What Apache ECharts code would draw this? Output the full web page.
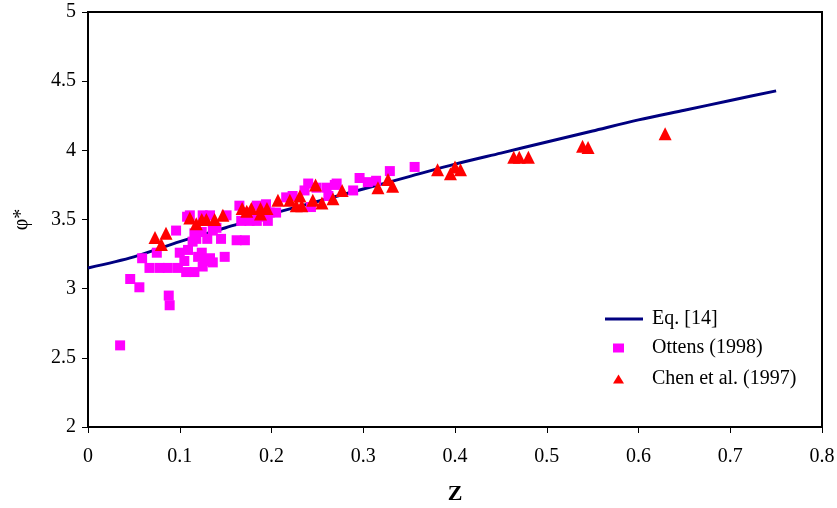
<!DOCTYPE html>
<html>
<head>
<meta charset="utf-8">
<script src="https://cdn.jsdelivr.net/npm/echarts@6/dist/echarts.min.js"></script>
<style>
  html, body { margin: 0; padding: 0; background: #fff; }
  #chart { width: 837px; height: 508px; }
</style>
</head>
<body>
<div id="chart"></div>
<script>
// Eq. [14] curve
const eqZ = [0, 0.05, 0.1, 0.15, 0.2, 0.25, 0.3, 0.35, 0.4, 0.45, 0.5, 0.55, 0.6, 0.65, 0.7, 0.75]
const eqPhi = [3.15, 3.23, 3.34, 3.44, 3.54, 3.63, 3.72, 3.81, 3.90, 3.98, 4.06, 4.14, 4.22, 4.29, 4.36, 4.43]

// Ottens (1998)
const ottensZ = [0.035, 0.046, 0.056, 0.059, 0.067, 0.075, 0.078, 0.087, 0.088, 0.089,
  0.096, 0.098, 0.100, 0.105, 0.107, 0.108, 0.109, 0.111, 0.114, 0.116,
  0.116, 0.118, 0.120, 0.124, 0.124, 0.125, 0.125, 0.127, 0.130, 0.133,
  0.133, 0.136, 0.136, 0.140, 0.145, 0.149, 0.151, 0.162, 0.165, 0.167,
  0.171, 0.173, 0.173, 0.176, 0.182, 0.184, 0.184, 0.191, 0.194, 0.196,
  0.198, 0.205, 0.216, 0.223, 0.236, 0.240, 0.243, 0.249, 0.260, 0.262,
  0.269, 0.271, 0.289, 0.296, 0.305, 0.314, 0.329, 0.356]
const ottensPhi = [2.59, 3.07, 3.01, 3.22, 3.15, 3.26, 3.15, 3.15, 2.95, 2.88,
  3.42, 3.15, 3.26, 3.20, 3.12, 3.52, 3.28, 3.53, 3.34, 3.12,
  3.40, 3.36, 3.23, 3.26, 3.41, 3.16, 3.53, 3.20, 3.36, 3.22,
  3.53, 3.19, 3.42, 3.44, 3.36, 3.23, 3.53, 3.35, 3.60, 3.49,
  3.35, 3.55, 3.50, 3.49, 3.51, 3.49, 3.60, 3.52, 3.61, 3.49,
  3.55, 3.55, 3.66, 3.67, 3.71, 3.76, 3.59, 3.73, 3.73, 3.67,
  3.75, 3.76, 3.71, 3.80, 3.77, 3.78, 3.85, 3.88]

// Chen et al. (1997)
const chenZ = [0.073, 0.080, 0.085, 0.111, 0.118, 0.124, 0.129, 0.138, 0.147, 0.168,
  0.173, 0.178, 0.188, 0.188, 0.195, 0.207, 0.220, 0.227, 0.231, 0.233,
  0.245, 0.248, 0.255, 0.267, 0.277, 0.316, 0.327, 0.332, 0.381, 0.395,
  0.400, 0.406, 0.464, 0.470, 0.480, 0.539, 0.545, 0.629]
const chenPhi = [3.37, 3.32, 3.40, 3.51, 3.47, 3.50, 3.50, 3.50, 3.53, 3.58,
  3.56, 3.58, 3.58, 3.54, 3.58, 3.64, 3.64, 3.60, 3.67, 3.60,
  3.64, 3.75, 3.62, 3.65, 3.71, 3.73, 3.79, 3.74, 3.86, 3.83,
  3.88, 3.86, 3.95, 3.95, 3.95, 4.03, 4.02, 4.12]

const zip = (a, b) => a.map((x, i) => [x, b[i]])

const font = 'Liberation Serif'
const chart = echarts.init(document.getElementById('chart'))

const option = {
  animation: false,
  textStyle: { fontFamily: font, color: '#000' },
  grid: {
    left: 88, right: 15, top: 12, bottom: 81,
    outerBoundsMode: 'none',
    show: true, borderColor: '#000', borderWidth: 2, backgroundColor: '#fff'
  },
  legend: [
    {
      data: [{ name: 'Eq. [14]', icon: 'rect' }],
      orient: 'vertical',
      left: 600, top: 304,
      itemWidth: 38, itemHeight: 3,
      textStyle: { fontFamily: font, fontSize: 20, color: '#000', padding: [0, 0, 0, 4] }
    },
    {
      data: [
        { name: 'Ottens (1998)', icon: 'rect' },
        { name: 'Chen et al. (1997)', icon: 'triangle' }
      ],
      orient: 'vertical',
      left: 608, top: 333,
      itemWidth: 11, itemHeight: 9,
      itemGap: 11,
      textStyle: { fontFamily: font, fontSize: 20, color: '#000', padding: [0, 0, 0, 23] }
    }
  ],
  xAxis: {
    type: 'value',
    min: 0, max: 0.8, interval: 0.1,
    name: 'Z',
    nameLocation: 'middle',
    nameGap: 56,
    nameTextStyle: { fontFamily: font, fontSize: 22, fontWeight: 'bold', color: '#000' },
    axisLine: { show: true, lineStyle: { color: '#000', width: 2 } },
    axisTick: { show: true, inside: false, length: 6, lineStyle: { color: '#000' } },
    axisLabel: { fontFamily: font, fontSize: 20, color: '#000', margin: 20 },
    splitLine: { show: false }
  },
  yAxis: {
    type: 'value',
    min: 2, max: 5, interval: 0.5,
    name: 'φ*',
    nameLocation: 'middle',
    nameRotate: 90,
    nameGap: 56,
    nameTextStyle: { fontFamily: font, fontSize: 20, color: '#000' },
    axisLine: { show: true, lineStyle: { color: '#000', width: 2 } },
    axisTick: { show: true, inside: false, length: 6, lineStyle: { color: '#000' } },
    axisLabel: { fontFamily: font, fontSize: 20, color: '#000', margin: 12 },
    splitLine: { show: false }
  },
  series: [
    {
      name: 'Eq. [14]',
      type: 'line',
      data: zip(eqZ, eqPhi),
      smooth: 0.3,
      symbol: 'none',
      lineStyle: { color: '#000080', width: 3 },
      itemStyle: { color: '#000080' },
      z: 3
    },
    {
      name: 'Ottens (1998)',
      type: 'scatter',
      data: zip(ottensZ, ottensPhi),
      symbol: 'rect',
      symbolSize: 10,
      itemStyle: { color: '#FF00FF', opacity: 1 },
      z: 4
    },
    {
      name: 'Chen et al. (1997)',
      type: 'scatter',
      data: zip(chenZ, chenPhi),
      symbol: 'triangle',
      symbolSize: [13, 13],
      itemStyle: { color: '#FF0000', opacity: 1 },
      z: 5
    }
  ]
}

chart.setOption(option)
</script>
</body>
</html>
